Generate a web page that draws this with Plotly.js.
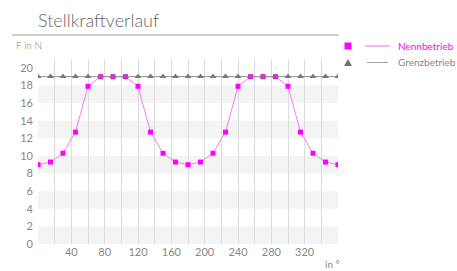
<!DOCTYPE html>
<html>
<head>
<meta charset="utf-8">
<script src="https://cdn.plot.ly/plotly-3.0.1.min.js"></script>
<style>html,body{margin:0;padding:0;background:#fff;}#chart{width:457px;height:271px;}</style>
</head>
<body>
<div id="chart"></div>
<script>
// Data
const angles = [0,15,30,45,60,75,90,105,120,135,150,165,180,195,210,225,240,255,270,285,300,315,330,345,360];
const nennbetrieb = [9.0,9.3,10.3,12.7,17.9,19.0,19.0,19.0,17.9,12.7,10.3,9.3,9.0,9.3,10.3,12.7,17.9,19.0,19.0,19.0,17.9,12.7,10.3,9.3,9.0];
const grenzbetrieb = [19,19,19,19,19,19,19,19,19,19,19,19,19,19,19,19,19,19,19,19,19,19,19,19,19];
const xTickValues = [40,80,120,160,200,240,280,320];
const yTickValues = [0,2,4,6,8,10,12,14,16,18,20];
const seriesNames = ['Nennbetrieb','Grenzbetrieb'];
const titleText = 'Stellkraftverlauf';
const yUnit = 'F in N';
const xUnit = 'in °';

const FONT = 'Lato, "Open Sans", sans-serif';
const MAG = '#ff00ff';

// horizontal bands
const shapes = [];
yTickValues.forEach(t => {
  if (t < 20 && (t/2) % 2 === 0) {
    shapes.push({type:'rect', xref:'paper', yref:'y', x0:0, x1:1, y0:t, y1:t+2,
      fillcolor:'#f4f4f4', line:{width:0}, layer:'below'});
  }
});
const px = x => (x-38)/300, py = y => (244-y)/185;
// title underline
shapes.push({type:'line', xref:'paper', yref:'paper', x0:px(12), x1:px(339), y0:py(35), y1:py(35),
  line:{color:'#a0a0a0', width:1}});
// custom legend lines
shapes.push({type:'line', xref:'paper', yref:'paper', x0:px(365), x1:px(390), y0:py(46), y1:py(46),
  line:{color:'#ff66ff', width:1}});
shapes.push({type:'line', xref:'paper', yref:'paper', x0:px(367), x1:px(388), y0:py(62.5), y1:py(62.5),
  line:{color:'#a0a0a0', width:1}});
// legend markers
shapes.push({type:'rect', xref:'paper', yref:'paper', x0:px(344.5), x1:px(351.5), y0:py(49.5), y1:py(42.5),
  fillcolor:MAG, line:{width:0}});
shapes.push({type:'path', xref:'paper', yref:'paper',
  path:`M ${px(344)} ${py(66)} L ${px(352)} ${py(66)} L ${px(348)} ${py(59)} Z`,
  fillcolor:'#707070', line:{width:0}});

const traces = [
  {x:angles, y:nennbetrieb, name:seriesNames[0], type:'scatter', mode:'lines+markers',
   line:{color:'#ff77ff', width:1}, marker:{color:MAG, symbol:'square', size:5}, showlegend:false, hoverinfo:'skip'},
  {x:angles, y:grenzbetrieb, name:seriesNames[1], type:'scatter', mode:'lines+markers',
   line:{color:'#909090', width:1}, marker:{color:'#777777', symbol:'triangle-up', size:6}, showlegend:false, hoverinfo:'skip'}
];

const annotations = [
  {text:yUnit, xref:'paper', yref:'paper', x:px(14), y:py(45), xanchor:'left', yanchor:'middle',
   showarrow:false, font:{family:FONT, size:10, color:'#777', weight:300}},
  {text:xUnit, xref:'paper', yref:'paper', x:px(323), y:py(264), xanchor:'left', yanchor:'middle',
   showarrow:false, font:{family:FONT, size:10, color:'#888'}},
  {text:seriesNames[0], xref:'paper', yref:'paper', x:px(396), y:py(46), xanchor:'left', yanchor:'middle',
   showarrow:false, font:{family:FONT, size:10, color:MAG}},
  {text:seriesNames[1], xref:'paper', yref:'paper', x:px(396), y:py(62), xanchor:'left', yanchor:'middle',
   showarrow:false, font:{family:FONT, size:10, color:'#888'}}
];

const layout = {
  width:457, height:271,
  margin:{l:38, r:119, t:59, b:27, pad:0},
  paper_bgcolor:'#fff', plot_bgcolor:'rgba(0,0,0,0)',
  showlegend:false,
  title:{text:titleText, xref:'container', yref:'container', x:38/457, xanchor:'left',
    y:1-21/271, yanchor:'middle', font:{family:FONT, size:18, color:'#666', weight:300}},
  xaxis:{range:[0,360], tickvals:xTickValues, ticks:'', showline:false, zeroline:false,
    showgrid:true, gridcolor:'#dcdcdc', gridwidth:1,
    minor:{tick0:0, dtick:20, showgrid:true, gridcolor:'#dcdcdc', gridwidth:1, ticks:''},
    tickfont:{family:FONT, size:11, color:'#888'}, fixedrange:true},
  yaxis:{range:[0,21], tickvals:yTickValues, ticks:'', showline:false, zeroline:false, showgrid:false,
    tickfont:{family:FONT, size:11, color:'#888'}, ticklabelstandoff:4, fixedrange:true},
  shapes:shapes,
  annotations:annotations,
  font:{family:FONT}
};

Plotly.newPlot('chart', traces, layout, {displayModeBar:false, staticPlot:true});
</script>
</body>
</html>
